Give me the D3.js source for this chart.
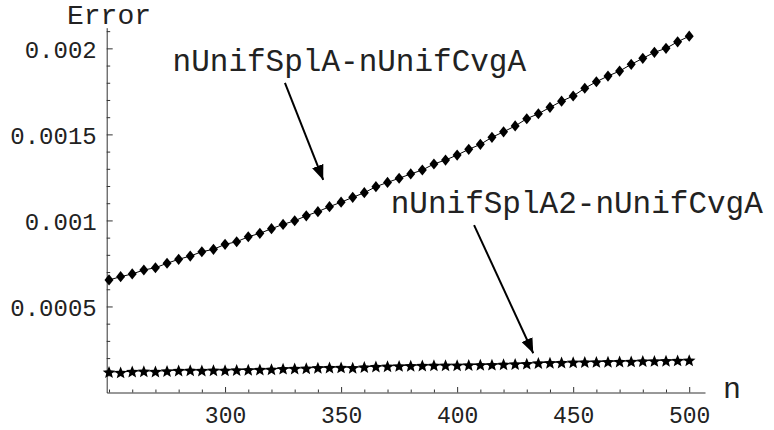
<!DOCTYPE html>
<html>
<head>
<meta charset="utf-8">
<script src="https://cdn.jsdelivr.net/npm/d3@7"></script>
<style>
  html, body { margin: 0; padding: 0; background: #fff; }
  svg { display: block; }
  text { font-family: 'Courier New', 'Liberation Mono', monospace; }
</style>
</head>
<body>
<svg id="chart" width="774" height="430"></svg>
<script>
// ---- data ----
const nValues = [250,255,260,265,270,275,280,285,290,295,300,305,310,315,320,325,330,335,340,345,
  350,355,360,365,370,375,380,385,390,395,400,405,410,415,420,425,430,435,440,445,
  450,455,460,465,470,475,480,485,490,495,500];
const splA = [0.000654,0.000673,0.000689,0.000712,0.000725,0.000751,0.000774,0.000793,0.000818,0.000832,
  0.000861,0.000876,0.000905,0.000925,0.000952,0.000977,0.000998,0.001027,0.001051,0.001080,
  0.001106,0.001134,0.001161,0.001196,0.001221,0.001245,0.001270,0.001293,0.001328,0.001351,
  0.001380,0.001413,0.001442,0.001483,0.001515,0.001549,0.001591,0.001620,0.001657,0.001693,
  0.001723,0.001768,0.001806,0.001839,0.001868,0.001907,0.001942,0.001977,0.002000,0.002038,0.002071];
const splA2 = [0.000121,0.000119,0.000124,0.000126,0.000124,0.000127,0.000130,0.000131,0.000130,0.000132,
  0.000131,0.000133,0.000134,0.000136,0.000137,0.000141,0.000142,0.000143,0.000146,0.000147,
  0.000148,0.000146,0.000150,0.000153,0.000155,0.000157,0.000158,0.000159,0.000160,0.000161,
  0.000161,0.000162,0.000163,0.000164,0.000166,0.000168,0.000170,0.000174,0.000175,0.000176,
  0.000178,0.000179,0.000180,0.000181,0.000182,0.000183,0.000185,0.000186,0.000187,0.000189,0.000190];
const xMajorTicks = [300,350,400,450,500];
const xMinorTicks = [250,260,270,280,290,310,320,330,340,360,370,380,390,410,420,430,440,460,470,480,490];
const yMajorTicks = [0.0005,0.001,0.0015,0.002];
const yTickLabels = ["0.0005","0.001","0.0015","0.002"];
const yMinorTicks = [0.0001,0.0002,0.0003,0.0004,0.0006,0.0007,0.0008,0.0009,0.0011,0.0012,0.0013,0.0014,
  0.0016,0.0017,0.0018,0.0019,0.0021];
const labels = [
  {text: "nUnifSplA-nUnifCvgA", n: 277.4, v: 0.001868},
  {text: "nUnifSplA2-nUnifCvgA", n: 371.4, v: 0.001043}
];
const arrows = [
  {n0: 325.8, v0: 0.00180, n1: 342.3, v1: 0.001235},
  {n0: 407.3, v0: 0.000973, n1: 432.8, v1: 0.000228}
];
const xAxisTitle = "n";
const yAxisTitle = "Error";

// ---- scales ----
const svg = d3.select("#chart");
const x = d3.scaleLinear().domain([249, 506.8]).range([106.7, 705]);
const y = d3.scaleLinear().domain([0, 0.00212]).range([392.5, 27.7]);
const axisColor = "#333";

// ---- axes ----
const gx = svg.append("g").attr("transform", `translate(0,${y(0)})`)
  .call(d3.axisBottom(x).tickValues(xMajorTicks).tickSize(-5.5).tickSizeOuter(0).tickPadding(14).tickFormat(d3.format("d")));
const gxm = svg.append("g").attr("transform", `translate(0,${y(0)})`)
  .call(d3.axisBottom(x).tickValues(xMinorTicks).tickSize(-3).tickSizeOuter(0).tickFormat(""));
gxm.select(".domain").remove();

const gy = svg.append("g").attr("transform", `translate(${x(249)},0)`)
  .call(d3.axisLeft(y).tickValues(yMajorTicks).tickSize(-6).tickSizeOuter(0).tickPadding(10)
    .tickFormat((d, i) => yTickLabels[i]));
const gym = svg.append("g").attr("transform", `translate(${x(249)},0)`)
  .call(d3.axisLeft(y).tickValues(yMinorTicks).tickSize(-3.5).tickSizeOuter(0).tickFormat(""));
gym.select(".domain").remove();

[gx, gxm, gy, gym].forEach(g => {
  g.selectAll(".domain").attr("stroke", axisColor).attr("stroke-width", 1);
  g.selectAll(".tick line").attr("stroke", axisColor).attr("stroke-width", 1);
  g.selectAll(".tick text").attr("fill", "#222").style("font-size", "23px")
    .style("font-family", "'Liberation Mono', monospace");
});
gy.selectAll(".tick text").attr("dy", "0.37em").style("font-size", "24px");

// axis titles
svg.append("text").attr("x", 723).attr("y", 398).attr("fill", "#222")
  .style("font-size", "30px").text(xAxisTitle);
svg.append("text").attr("x", 67).attr("y", 24).attr("fill", "#222")
  .style("font-size", "28px").text(yAxisTitle);

// ---- series ----
const line = d3.line().x((d, i) => x(nValues[i])).y(d => y(d));
svg.append("path").datum(splA).attr("d", line).attr("fill", "none").attr("stroke", "#000").attr("stroke-width", 1);
svg.append("path").datum(splA2).attr("d", line).attr("fill", "none").attr("stroke", "#000").attr("stroke-width", 1);

// diamonds
svg.append("g").selectAll("path").data(splA).join("path")
  .attr("transform", (d, i) => `translate(${x(nValues[i])},${y(d)})`)
  .attr("d", "M0,-5.6L4.5,0L0,5.6L-4.5,0Z")
  .attr("fill", "#000");

// stars
function starPath(ro, ri) {
  const pts = [];
  for (let k = 0; k < 10; k++) {
    const a = -Math.PI / 2 + k * Math.PI / 5;
    const r = k % 2 === 0 ? ro : ri;
    pts.push([r * Math.cos(a), r * Math.sin(a)]);
  }
  return "M" + pts.map(p => p[0].toFixed(2) + "," + p[1].toFixed(2)).join("L") + "Z";
}
const star = starPath(6.6, 2.9);
svg.append("g").selectAll("path").data(splA2).join("path")
  .attr("transform", (d, i) => `translate(${x(nValues[i])},${y(d) + 1})`)
  .attr("d", star)
  .attr("fill", "#000");

// ---- annotations ----
svg.append("defs").append("marker")
  .attr("id", "arrowhead").attr("markerUnits", "userSpaceOnUse")
  .attr("markerWidth", 16).attr("markerHeight", 12)
  .attr("refX", 15).attr("refY", 6).attr("orient", "auto")
  .append("path").attr("d", "M0,0L15,6L0,12Z").attr("fill", "#000");

svg.append("g").selectAll("line").data(arrows).join("line")
  .attr("x1", d => x(d.n0)).attr("y1", d => y(d.v0))
  .attr("x2", d => x(d.n1)).attr("y2", d => y(d.v1))
  .attr("stroke", "#000").attr("stroke-width", 2)
  .attr("marker-end", "url(#arrowhead)");

svg.append("g").selectAll("text").data(labels).join("text")
  .attr("x", d => x(d.n)).attr("y", d => y(d.v))
  .attr("fill", "#222").style("font-size", "31px")
  .text(d => d.text);
</script>
</body>
</html>
